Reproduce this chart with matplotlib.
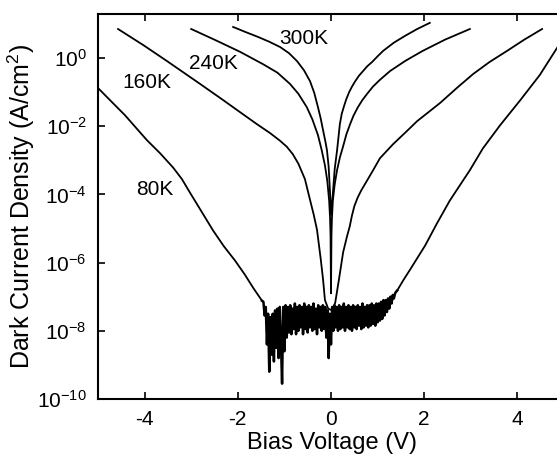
import numpy as np
import matplotlib.pyplot as plt

plt.rcParams['font.family'] = 'Liberation Sans'
plt.rcParams['mathtext.fontset'] = 'custom'
plt.rcParams['mathtext.rm'] = 'Liberation Sans'
plt.rcParams['mathtext.it'] = 'Liberation Sans'

v_300k = [-2.10, -1.85, -1.57, -1.33, -1.09, -0.90, -0.73, -0.58, -0.45, -0.36,
          -0.28, -0.22, -0.17, -0.12, -0.086, -0.05, -0.02, 0.0,
          0.04, 0.08, 0.13, 0.19, 0.23, 0.28, 0.33, 0.39, 0.45, 0.52, 0.60,
          0.69, 0.78, 0.88, 1.00, 1.12, 1.35, 1.59, 1.85, 2.12]
logj_300k = [0.91, 0.77, 0.62, 0.48, 0.32, 0.14, -0.09, -0.36, -0.68, -1.02,
             -1.44, -1.78, -2.12, -2.45, -2.71, -3.2, -3.97, -4.6,
             -3.97, -3.25, -2.71, -1.94, -1.64, -1.41, -1.2, -1.0, -0.84, -0.68, -0.52,
             -0.38, -0.24, -0.12, 0.05, 0.21, 0.45, 0.65, 0.85, 1.03]

v_240k = [-3.00, -2.49, -1.95, -1.46, -1.15, -0.88, -0.70, -0.52, -0.40, -0.28,
          -0.20, -0.13, -0.08, -0.04, -0.02, -0.01, 0.0,
          0.01, 0.02, 0.04, 0.08, 0.13, 0.19, 0.26, 0.33, 0.41, 0.48, 0.57,
          0.67, 0.77, 0.90, 1.05, 1.27, 1.60, 1.97, 2.45, 2.98]
logj_240k = [0.85, 0.53, 0.18, -0.18, -0.43, -0.76, -1.05, -1.44, -1.8, -2.26,
             -2.7, -3.15, -3.6, -4.18, -4.7, -5.2, -6.9,
             -5.2, -4.7, -4.18, -3.7, -3.29, -2.92, -2.59, -2.24, -1.94, -1.7, -1.46,
             -1.24, -1.06, -0.84, -0.64, -0.38, -0.08, 0.21, 0.54, 0.85]

v_160k = [-4.57, -4.03, -3.52, -2.81, -2.35, -1.95, -1.59, -1.31, -1.10, -0.95,
          -0.82, -0.70, -0.56, -0.45, -0.37, -0.30, -0.22, -0.17, -0.13, -0.06, 0.02,
          0.09, 0.17, 0.26, 0.34, 0.40, 0.45, 0.50, 0.57, 0.65, 0.75, 0.90,
          1.05, 1.33, 1.60, 1.85, 2.10, 2.34, 2.70, 3.05, 3.40, 3.78, 4.15, 4.53]
logj_160k = [0.85, 0.38, -0.09, -0.76, -1.2, -1.59, -1.94, -2.2, -2.42, -2.6,
             -2.82, -3.1, -3.55, -4.16, -4.6, -5.04, -5.9, -6.5, -7.1, -7.35, -7.4,
             -7.18, -6.5, -5.7, -5.25, -4.95, -4.62, -4.35, -4.1, -3.88, -3.65, -3.3,
             -2.94, -2.53, -2.18, -1.85, -1.58, -1.32, -0.88, -0.47, -0.12, 0.21, 0.54, 0.85]

# 80K: reverse branch, noise floor, forward branch
v_80k_rev = [-5.0, -4.74, -4.42, -4.15, -3.95, -3.67, -3.39, -3.2, -3.03, -2.78,
             -2.53, -2.30, -2.06, -1.85, -1.67, -1.48]
logj_80k_rev = [-0.88, -1.24, -1.68, -2.1, -2.41, -2.79, -3.21, -3.55, -3.94, -4.5,
                -5.06, -5.52, -5.94, -6.35, -6.74, -7.12]

v_80k_floor = np.linspace(-1.45, 1.40, 115)
logj_80k_floor = [
    -7.15, -7.55, -7.3, -8.4, -7.5, -9.2, -7.6, -8.7, -7.5, -8.9,
    -7.4, -8.5, -7.35, -8.8, -7.3, -8.3, -9.55, -7.3, -8.6, -7.25,
    -8.2, -7.3, -8.05, -7.25, -8.1, -7.35, -7.95, -7.2, -8.1, -7.3,
    -8.0, -7.25, -7.9, -7.3, -8.1, -7.2, -7.95, -7.3, -8.05, -7.25,
    -7.9, -7.3, -8.0, -7.2, -7.95, -7.35, -8.1, -7.25, -7.9, -7.3,
    -8.0, -7.25, -7.95, -7.3, -8.2, -7.4, -8.8, -7.5, -8.4, -7.3,
    -8.0, -7.25, -7.9, -7.3, -8.0, -7.25, -7.95, -7.3, -7.9, -7.2,
    -8.0, -7.3, -7.9, -7.25, -7.95, -7.3, -8.0, -7.25, -7.9, -7.3,
    -7.95, -7.25, -7.85, -7.3, -7.95, -7.2, -7.9, -7.3, -7.85, -7.25,
    -7.9, -7.25, -7.85, -7.2, -7.8, -7.25, -7.85, -7.2, -7.75, -7.2,
    -7.7, -7.15, -7.65, -7.1, -7.55, -7.1, -7.45, -7.05, -7.35, -7.0,
    -7.2, -6.95, -7.05, -6.9, -6.85]

v_80k_fwd = [1.42, 1.55, 1.70, 1.86, 2.02, 2.27, 2.55, 2.98, 3.26, 3.63, 4.06, 4.48, 4.90]
logj_80k_fwd = [-6.82, -6.52, -6.2, -5.85, -5.5, -4.86, -4.18, -3.29, -2.65, -1.97, -1.24, -0.5, 0.4]

labels = ['300K', '240K', '160K', '80K']
label_v = [-0.58, -2.53, -3.95, -3.78]
label_logj = [0.56, -0.15, -0.71, -3.85]

fig = plt.figure(figsize=(5.57, 4.57), dpi=100)
ax = fig.add_axes([98/557, 58/457, 459/557, 385/457])

for v, lj in [(v_300k, logj_300k), (v_240k, logj_240k), (v_160k, logj_160k),
              (v_80k_rev, logj_80k_rev), (v_80k_fwd, logj_80k_fwd)]:
    ax.plot(v, 10**np.asarray(lj), color='black', lw=1.3)
ax.plot(np.concatenate([v_80k_rev[-1:], v_80k_floor, v_80k_fwd[:1]]),
        10**np.concatenate([logj_80k_rev[-1:], logj_80k_floor, logj_80k_fwd[:1]]),
        color='black', lw=1.8)

for t, v, lj in zip(labels, label_v, label_logj):
    ax.text(v, 10**lj, t, fontsize=15, ha='center', va='center')

ax.set_yscale('log')
ax.set_xlim(-5, -5 + 459/46.6)
ax.set_ylim(1e-10, 10**1.29)

ax.set_xticks([-4, -2, 0, 2, 4])
ax.set_xticklabels(['-4', '-2', '0', '2', '4'])
yt = [1e-10, 1e-8, 1e-6, 1e-4, 1e-2, 1e0]
ax.set_yticks(yt)
ax.set_yticklabels([r'$\mathregular{10^{%d}}$' % int(np.log10(y)) for y in yt])
ax.minorticks_off()

ax.tick_params(axis='both', direction='in', length=5, width=1.2, labelsize=15, pad=8)
ax.tick_params(axis='x', top=True)
ax.spines['right'].set_visible(False)
for s in ['left', 'top', 'bottom']:
    ax.spines[s].set_linewidth(1.5)

ax.set_xlabel('Bias Voltage (V)', fontsize=17)
ax.set_ylabel(r'Dark Current Density (A/cm$^2$)', fontsize=18)
ax.xaxis.set_label_coords(0.51, -0.085)
ax.xaxis.label.set_va('top')
ax.yaxis.set_label_coords(-0.133, 0.5)

fig.savefig('out.png', dpi=100)
